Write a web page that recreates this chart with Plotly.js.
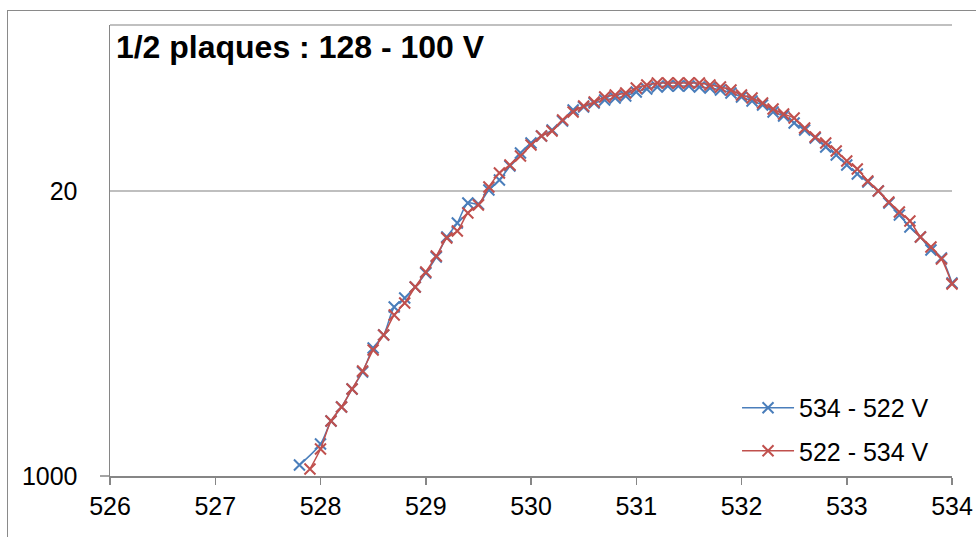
<!DOCTYPE html>
<html>
<head>
<meta charset="utf-8">
<script src="https://cdn.plot.ly/plotly-3.0.1.min.js"></script>
<style>
html,body{margin:0;padding:0;background:#fff;}
#wrap{position:relative;width:976px;height:537px;overflow:hidden;}
#chart{position:absolute;left:0;top:0;width:976px;height:537px;}
.frame{position:absolute;pointer-events:none;z-index:10;}
#outerTop{left:7px;top:10px;width:969px;height:0;border-top:1px solid #8a8a8a;}
#outerLeft{left:7px;top:10px;width:0;height:527px;border-left:1px solid #8a8a8a;}
#plotTop{left:110px;top:24px;width:842px;height:0;border-top:2px solid #c0c0c0;}
</style>
</head>
<body>
<div id="wrap">
  <div id="chart"></div>
  <div class="frame" id="outerTop"></div>
  <div class="frame" id="outerLeft"></div>
  <div class="frame" id="plotTop"></div>
</div>
<script>
// Binding energy (eV)
var xBlue = [527.8, 528.0, 528.1, 528.2, 528.3, 528.4, 528.5, 528.6, 528.7, 528.8,
             528.9, 529.0, 529.1, 529.2, 529.3, 529.4, 529.5, 529.6, 529.7, 529.8,
             529.9, 530.0, 530.1, 530.2, 530.3, 530.4, 530.5, 530.6, 530.7, 530.8,
             530.9, 531.0, 531.1, 531.2, 531.3, 531.4, 531.5, 531.6, 531.7, 531.8,
             531.9, 532.0, 532.1, 532.2, 532.3, 532.4, 532.5, 532.6, 532.7, 532.8,
             532.9, 533.0, 533.1, 533.2, 533.3, 533.4, 533.5, 533.6, 533.7, 533.8,
             533.9, 534.0];
var yBlue = [11, 32, 55, 69, 87, 104, 128, 141, 169, 178,
             189, 203, 219, 239, 253, 273, 272, 286, 296, 310,
             323, 333, 340, 346, 355, 366, 369, 373, 376, 378,
             380, 384, 387, 389, 390, 390, 390, 389, 388, 386,
             383, 379, 375, 371, 364, 360, 353, 346, 338, 329,
             321, 311, 302, 294, 285, 273, 261, 249, 239, 226,
             218, 193];
var xRed = [527.9, 528.0, 528.1, 528.2, 528.3, 528.4, 528.5, 528.6, 528.7, 528.8,
            528.9, 529.0, 529.1, 529.2, 529.3, 529.4, 529.5, 529.6, 529.7, 529.8,
            529.9, 530.0, 530.1, 530.2, 530.3, 530.4, 530.5, 530.6, 530.7, 530.8,
            530.9, 531.0, 531.1, 531.2, 531.3, 531.4, 531.5, 531.6, 531.7, 531.8,
            531.9, 532.0, 532.1, 532.2, 532.3, 532.4, 532.5, 532.6, 532.7, 532.8,
            532.9, 533.0, 533.1, 533.2, 533.3, 533.4, 533.5, 533.6, 533.7, 533.8,
            533.9, 534.0];
var yRed = [7, 27, 55, 69, 87, 105, 126, 141, 161, 173,
            189, 204, 220, 238, 245, 263, 271, 289, 303, 311,
            320, 331, 340, 345, 356, 364, 370, 374, 379, 381,
            383, 388, 391, 393, 393, 393, 393, 393, 391, 389,
            386, 381, 378, 373, 367, 362, 358, 348, 339, 333,
            325, 315, 307, 295, 285, 274, 264, 255, 239, 229,
            217, 192];
var seriesNames = ["534 - 522 V", "522 - 534 V"];
var xTicks = [526, 527, 528, 529, 530, 531, 532, 533, 534];
var yTickVals = [0, 285];
var yTickText = ["1000", "20"];
var chartTitle = "1/2 plaques : 128 - 100 V";

var FONT = "Arial, 'Liberation Sans', sans-serif";
var BLUE = "#4a7ebb", RED = "#c0504d";

function trace(x, y, name, color, legendId) {
  return {
    x: x, y: y, name: name, type: "scatter", mode: "lines+markers",
    line: {color: color, width: 1.5, shape: "spline", smoothing: 0.8},
    marker: {symbol: "x-thin", size: 11, color: color, line: {color: color, width: 2}},
    cliponaxis: false, legend: legendId
  };
}

var data = [
  trace(xBlue, yBlue, seriesNames[0], BLUE, "legend"),
  trace(xRed, yRed, seriesNames[1], RED, "legend2")
];

var legendCommon = {
  xref: "paper", yref: "paper", x: 0.7447, xanchor: "left", yanchor: "middle",
  bgcolor: "rgba(0,0,0,0)", borderwidth: 0, itemwidth: 52,
  font: {family: FONT, size: 25, color: "#000"}
};

var layout = {
  width: 976, height: 537,
  paper_bgcolor: "#fff", plot_bgcolor: "#fff",
  margin: {l: 110, r: 24, t: 25, b: 61},
  font: {family: FONT, color: "#000"},
  title: {
    text: "<b>" + chartTitle + "</b>",
    font: {family: FONT, size: 32, color: "#000"},
    xref: "paper", x: 0.007, xanchor: "left",
    yref: "container", y: 0.912, yanchor: "middle"
  },
  showlegend: true,
  legend: Object.assign({}, legendCommon, {y: 0.1508}),
  legend2: Object.assign({}, legendCommon, {y: 0.0554}),
  xaxis: {
    range: [526, 534], tickvals: xTicks, ticktext: xTicks.map(String),
    showgrid: false, zeroline: false,
    showline: true, linecolor: "#868686", linewidth: 1.5,
    ticks: "outside", ticklen: 7, tickcolor: "#868686", tickwidth: 1.5,
    tickfont: {family: FONT, size: 25, color: "#000"}
  },
  yaxis: {
    range: [0, 451], tickvals: yTickVals, ticktext: yTickText,
    showgrid: true, gridcolor: "#bfbfbf", gridwidth: 1.5,
    zeroline: false,
    showline: true, linecolor: "#868686", linewidth: 1.5,
    ticks: "", ticklabelstandoff: 26,
    tickfont: {family: FONT, size: 25, color: "#000"}
  },
  shapes: [
    {type: "line", xref: "paper", yref: "paper", x0: -0.0119, x1: 0, y0: 0, y1: 0,
     line: {color: "#868686", width: 1.5}, layer: "above"}
  ]
};

Plotly.newPlot("chart", data, layout, {displayModeBar: false, staticPlot: true});
</script>
</body>
</html>
